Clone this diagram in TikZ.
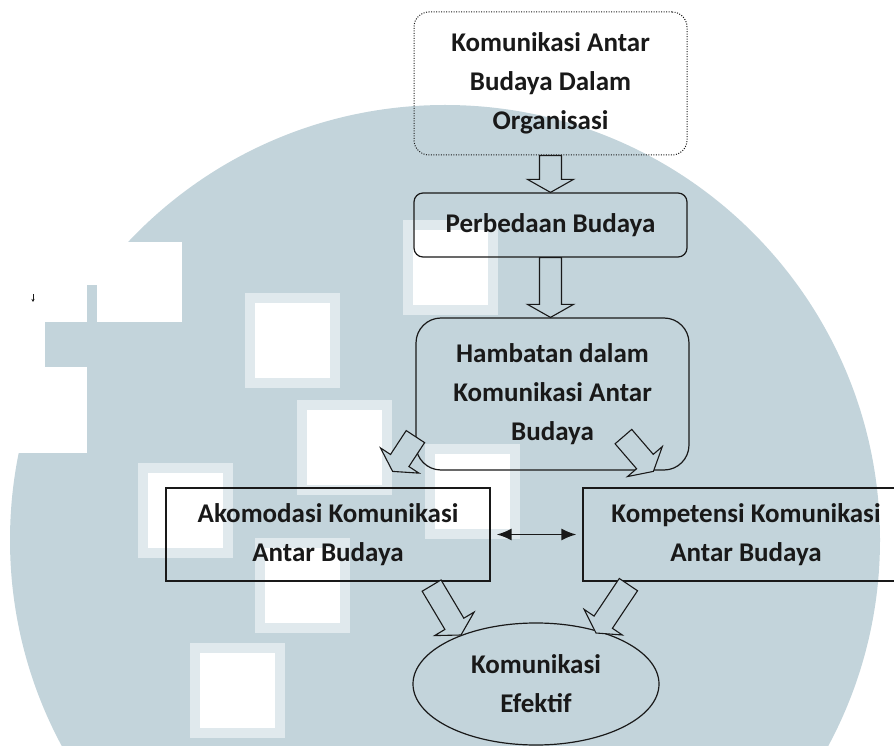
\documentclass[tikz,border=0pt]{standalone}
\usepackage{fontspec}
\setmainfont{Carlito}
\usetikzlibrary{calc,shapes.geometric,arrows.meta}

\definecolor{logo}{RGB}{195,212,219}
\definecolor{logotepi}{RGB}{224,233,237}
\definecolor{tinta}{RGB}{25,25,25}

\tikzset{
    kotak/.style={draw=tinta, line width=1.2pt, align=center, inner sep=0pt,
        font=\fontsize{27}{39}\selectfont\bfseries, text=tinta},
    panah/.style={draw=tinta, line width=1.1pt, fill=logo, line join=miter,
        to path={let \p1=(\tikztostart), \p2=(\tikztotarget),
            \p3=($(\p2)!13pt!(\p1)$) in
            ($(\p1)!11pt!90:(\p2)$) -- ($(\p3)!11pt!-90:(\p1)$) -- ($(\p3)!23pt!-90:(\p1)$)
            -- (\p2) -- ($(\p3)!23pt!90:(\p1)$) -- ($(\p3)!11pt!90:(\p1)$)
            -- ($(\p1)!11pt!-90:(\p2)$) -- cycle}}
}

\begin{document}
\begin{tikzpicture}[x=1pt, y=1pt]
    \useasboundingbox (0,0) rectangle (894,745);
    \fill[white] (0,0) rectangle (894,745);

    % watermark
    \begin{scope}
        \clip (0,0) rectangle (894,745);
        \fill[logo] (445,205) circle[radius=435];
        \fill[white] (0,423) rectangle (182,503);
        \fill[logo] (87,423) rectangle (97,460);
        \fill[logo] (45,378) rectangle (97,423);
        \fill[white] (0,292) rectangle (87,378);
        \foreach \sx/\sy in {250/447, 302/340, 143/277, 260/202, 195/97, 408/520, 430/296} {
            \filldraw[fill=white, draw=logotepi, line width=10pt] (\sx,\sy) rectangle ++(85,-85);
        }
    \end{scope}
    \draw[tinta, line width=0.8pt, -{Stealth[length=3pt,width=3pt]}] (33,451) -- (33,443);

    \node[kotak, draw=tinta, line width=1pt, dash pattern=on 1pt off 1.5pt, rounded corners=15pt,
        minimum width=273, minimum height=143] (budaya) at (550.5,661.5)
        {Komunikasi Antar\\Budaya Dalam\\Organisasi};
    \node[kotak, rounded corners=9pt, minimum width=273, minimum height=64] (beda) at (550.5,520)
        {Perbedaan Budaya};
    \node[kotak, rounded corners=25pt, minimum width=273, minimum height=152] (hambat) at (552.5,351)
        {Hambatan dalam\\Komunikasi Antar\\Budaya};
    \node[kotak, minimum width=324, minimum height=93] (akom) at (328,210.5)
        {Akomodasi Komunikasi\\Antar Budaya};
    \node[kotak, minimum width=326, minimum height=93] (komp) at (746,210.5)
        {Kompetensi Komunikasi\\Antar Budaya};
    \node[kotak, ellipse, minimum width=246, minimum height=122] (efektif) at (536,61)
        {Komunikasi\\Efektif};

    \draw[panah] (budaya.south) to (beda.north);
    \draw[panah] (beda.south) to (beda.south |- hambat.north);
    \draw[panah] ($(hambat.south west)+(0,34)$) to ($(akom.north east)+(-98,16)$);
    \draw[panah] ($(hambat.south west)+(208,34)$) to ($(komp.north west)+(71,16)$);
    \draw[panah] ($(akom.south east)+(-59,-4)$) to ($(efektif.center)+(-75,49)$);
    \draw[panah] ($(komp.south west)+(46,-3)$) to ($(efektif.center)+(60,51)$);

    \draw[tinta, line width=1.8pt, {Latex[length=15pt,width=12pt]}-{Latex[length=15pt,width=12pt]},
        shorten <=6pt, shorten >=6pt] (akom) -- (komp);
\end{tikzpicture}
\end{document}
